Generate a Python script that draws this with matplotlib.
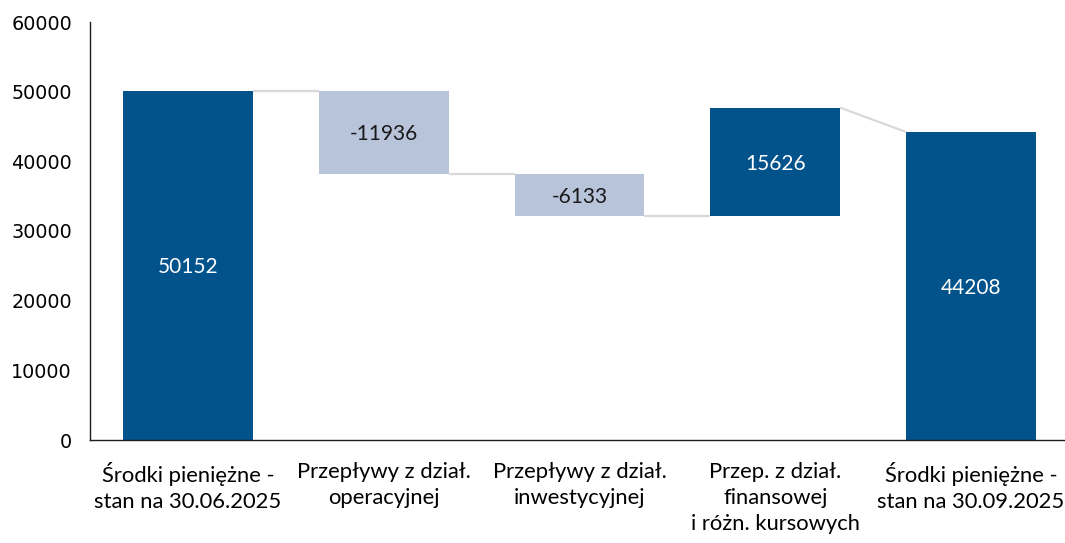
import matplotlib
matplotlib.use("Agg")
import matplotlib.pyplot as plt

categories = [
    "Środki pieniężne -\nstan na 30.06.2025",
    "Przepływy z dział.\noperacyjnej",
    "Przepływy z dział.\ninwestycyjnej",
    "Przep. z dział.\nfinansowej\ni różn. kursowych",
    "Środki pieniężne -\nstan na 30.09.2025",
]
values = [50152, -11936, -6133, 15626, 44208]
is_total = [True, False, False, False, True]
yticks = [0, 10000, 20000, 30000, 40000, 50000, 60000]

DARK = "#02538C"
LIGHT = "#B8C4DA"
CONNECTOR = "#D9D9D9"
LABEL_FONT = ["Lato", "DejaVu Sans"]

# compute bar bottoms/tops for the waterfall
bottoms, tops = [], []
running = 0
for v, tot in zip(values, is_total):
    if tot:
        bottoms.append(0)
        tops.append(v)
        running = v
    else:
        start = running
        running = running + v
        bottoms.append(min(start, running))
        tops.append(max(start, running))

fig = plt.figure(figsize=(10.65, 5.43), dpi=100)
ax = fig.add_axes([90 / 1065, 103 / 543, 975 / 1065, 418 / 543])

width = 0.663
x = list(range(len(values)))
colors = [DARK if (tot or v > 0) else LIGHT for v, tot in zip(values, is_total)]
ax.bar(x, [t - b for t, b in zip(tops, bottoms)], bottom=bottoms, width=width,
       color=colors, zorder=2)

# connector lines: end level of one bar to start level of the next
levels_end = []
for i, v in enumerate(values):
    if is_total[i]:
        levels_end.append(v)
    else:
        levels_end.append(tops[i] if v > 0 else bottoms[i])
for i in range(len(values) - 1):
    if is_total[i + 1] or values[i + 1] < 0:
        nxt = tops[i + 1]
    else:
        nxt = bottoms[i + 1]
    ax.plot([i + width / 2, i + 1 - width / 2], [levels_end[i], nxt],
            color=CONNECTOR, lw=1.6, zorder=1, solid_capstyle="butt")

for i, v in enumerate(values):
    txt_color = "white" if colors[i] == DARK else "#1a1a1a"
    ax.text(i, (tops[i] + bottoms[i]) / 2 - 300, f"{v}", ha="center", va="center",
            color=txt_color, fontsize=15, family=LABEL_FONT)

ax.set_xlim(-0.5, 4.48)
ax.set_ylim(0, 60000)
ax.set_yticks(yticks)
ax.set_yticklabels([str(t) for t in yticks], fontsize=13.8, family="DejaVu Sans")
ax.set_xticks(x)
ax.set_xticklabels(categories, fontsize=15.8, family=LABEL_FONT, linespacing=1.38,
                   va="top")
ax.tick_params(axis="both", length=0)
ax.tick_params(axis="x", pad=16)
ax.tick_params(axis="y", pad=13)
for s in ["top", "right"]:
    ax.spines[s].set_visible(False)
for s in ["left", "bottom"]:
    ax.spines[s].set_linewidth(1.0)
    ax.spines[s].set_color("#1a1a1a")

fig.savefig("out.png", dpi=100)
